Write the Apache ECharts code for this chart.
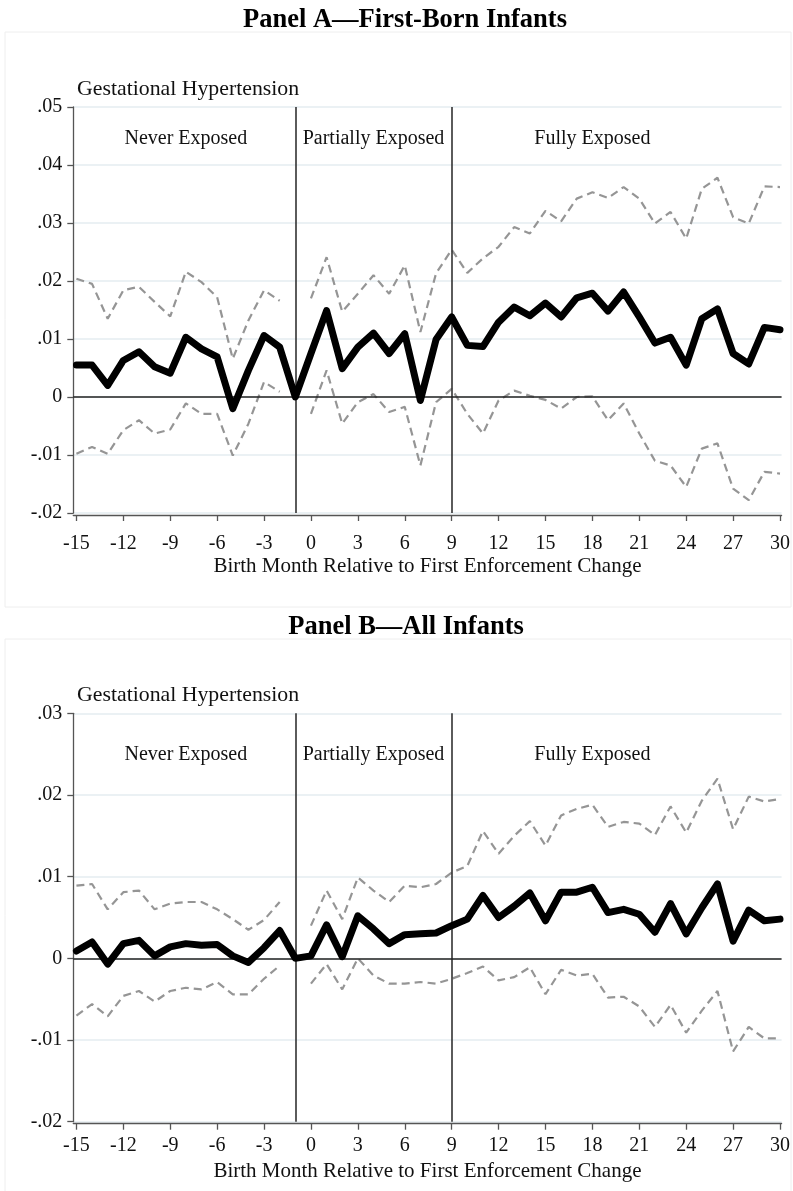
<!DOCTYPE html>
<html>
<head>
<meta charset="utf-8">
<script src="https://cdn.jsdelivr.net/npm/echarts@6/dist/echarts.min.js"></script>
<style>
html,body{margin:0;padding:0;background:#fff;}
#chart{width:793px;height:1191px;}
</style>
</head>
<body>
<div id="chart"></div>
<script>
// ---------- data ----------
const months = [-15,-14,-13,-12,-11,-10,-9,-8,-7,-6,-5,-4,-3,-2,-1,0,1,2,3,4,5,6,7,8,9,10,11,12,13,14,15,16,17,18,19,20,21,22,23,24,25,26,27,28,29,30];
const xTicks = [-15,-12,-9,-6,-3,0,3,6,9,12,15,18,21,24,27,30];
const dividers = [-1, 9];
const regionNames = ['Never Exposed','Partially Exposed','Fully Exposed'];
const regionX = [-8, 4, 18];
const regionYA = 0.0445;
const regionYB = 0.0249;

// Panel A — First-Born Infants
const A_est = [0.0055,0.0055,0.0020,0.0063,0.0078,0.0052,0.0041,0.0103,0.0083,0.0069,-0.0020,0.0046,0.0106,0.0086,0.0000,
  0.0075,0.0149,0.0049,0.0086,0.0110,0.0075,0.0109,-0.0006,0.0099,0.0138,0.0089,0.0087,0.0129,0.0155,0.0140,
  0.0162,0.0138,0.0171,0.0179,0.0148,0.0181,0.0138,0.0093,0.0103,0.0055,0.0135,0.0152,0.0075,0.0057,0.0120,0.0116];
const A_hi = [0.0204,0.0195,0.0135,0.0184,0.0190,0.0164,0.0139,0.0216,0.0198,0.0172,0.0066,0.0132,0.0184,0.0166,null,
  0.0170,0.0241,0.0147,0.0178,0.0210,0.0178,0.0227,0.0112,0.0213,0.0254,0.0214,0.0239,0.0259,0.0293,0.0282,
  0.0321,0.0303,0.0342,0.0353,0.0343,0.0362,0.0342,0.0299,0.0319,0.0273,0.0359,0.0378,0.0310,0.0299,0.0363,0.0362];
const A_lo = [-0.0098,-0.0086,-0.0098,-0.0057,-0.0040,-0.0063,-0.0056,-0.0011,-0.0029,-0.0029,-0.0101,-0.0046,0.0026,0.0009,null,
  -0.0029,0.0046,-0.0046,-0.0009,0.0005,-0.0026,-0.0017,-0.0118,-0.0009,0.0014,-0.0029,-0.0063,-0.0006,0.0011,0.0002,
  -0.0005,-0.0020,0.0000,0.0001,-0.0040,-0.0011,-0.0063,-0.0110,-0.0118,-0.0155,-0.0089,-0.0080,-0.0158,-0.0178,-0.0129,-0.0132];

// Panel B — All Infants
const B_est = [0.0009,0.0020,-0.0007,0.0018,0.0022,0.0003,0.0014,0.0018,0.0016,0.0017,0.0003,-0.0005,0.0013,0.0034,0.0000,
  0.0003,0.0041,0.0002,0.0052,0.0036,0.0018,0.0029,0.0030,0.0031,0.0040,0.0048,0.0077,0.0050,0.0064,0.0080,
  0.0046,0.0081,0.0081,0.0087,0.0056,0.0060,0.0054,0.0032,0.0067,0.0030,0.0062,0.0091,0.0021,0.0059,0.0046,0.0048];
const B_hi = [0.0089,0.0091,0.0060,0.0081,0.0083,0.0060,0.0067,0.0069,0.0069,0.0060,0.0048,0.0035,0.0047,0.0069,null,
  0.0040,0.0083,0.0048,0.0099,0.0083,0.0069,0.0089,0.0087,0.0091,0.0105,0.0113,0.0156,0.0128,0.0150,0.0168,
  0.0138,0.0175,0.0183,0.0188,0.0161,0.0167,0.0165,0.0151,0.0186,0.0154,0.0193,0.0220,0.0158,0.0198,0.0192,0.0195];
const B_lo = [-0.0070,-0.0056,-0.0071,-0.0046,-0.0040,-0.0053,-0.0040,-0.0036,-0.0038,-0.0029,-0.0044,-0.0044,-0.0025,-0.0009,null,
  -0.0031,-0.0007,-0.0038,0.0000,-0.0021,-0.0031,-0.0031,-0.0029,-0.0031,-0.0025,-0.0018,-0.0010,-0.0027,-0.0023,-0.0011,
  -0.0044,-0.0014,-0.0021,-0.0019,-0.0048,-0.0047,-0.0059,-0.0084,-0.0057,-0.0091,-0.0064,-0.0040,-0.0114,-0.0084,-0.0098,-0.0098];

// ---------- chart ----------
const FONT = '"Liberation Serif","Times New Roman",serif';
const pairs = arr => months.map((m, i) => [m, arr[i] === null ? '-' : arr[i]]);
const fmtY = v => {
  if (Math.abs(v) < 1e-9) return '0';
  return v.toFixed(2).replace('0.', '.');
};

function xAxisFor(idx, labelMargin, nameGap) {
  return {
    type: 'value', gridIndex: idx, min: -15.2, max: 30.1, offset: 2,
    axisLine: { show: true, onZero: false, lineStyle: { color: '#555', width: 1.3 } },
    axisTick: { show: true, length: 6, customValues: xTicks, lineStyle: { color: '#555', width: 1.3 } },
    axisLabel: { customValues: xTicks, margin: labelMargin, fontFamily: FONT, fontSize: 20, color: '#111' },
    splitLine: { show: false },
    name: 'Birth Month Relative to First Enforcement Change',
    nameLocation: 'middle', nameGap: nameGap,
    nameTextStyle: { fontFamily: FONT, fontSize: 21, color: '#111' }
  };
}
function yAxisFor(idx, min, max) {
  return {
    type: 'value', gridIndex: idx, min: min, max: max, interval: 0.01,
    axisLine: { show: true, onZero: false, lineStyle: { color: '#555', width: 1.3 } },
    axisTick: { show: true, length: 6, lineStyle: { color: '#555', width: 1.3 } },
    axisLabel: { margin: 11, fontFamily: FONT, fontSize: 20, color: '#111', formatter: fmtY },
    splitLine: { show: true, lineStyle: { color: '#e4edf1', width: 1.5 } }
  };
}
function seriesFor(idx, est, hi, lo, regionY) {
  const dashed = {
    type: 'line', xAxisIndex: idx, yAxisIndex: idx, symbol: 'none', silent: true,
    lineStyle: { color: '#959595', width: 2.2, type: [8, 5] }, z: 3
  };
  return [
    Object.assign({}, dashed, { data: pairs(hi) }),
    Object.assign({}, dashed, { data: pairs(lo) }),
    {
      type: 'line', xAxisIndex: idx, yAxisIndex: idx, symbol: 'none', silent: true, z: 5,
      data: pairs(est),
      lineStyle: { color: '#000', width: 7, join: 'round', cap: 'round' },
      markLine: {
        silent: true, symbol: 'none', animation: false,
        label: { show: false },
        data: [
          { xAxis: dividers[0], lineStyle: { color: '#333', width: 1.6, type: 'solid' } },
          { xAxis: dividers[1], lineStyle: { color: '#333', width: 1.6, type: 'solid' } },
          { yAxis: 0, lineStyle: { color: '#222', width: 1.6, type: 'solid' } }
        ]
      }
    },
    {
      type: 'scatter', xAxisIndex: idx, yAxisIndex: idx, silent: true,
      symbol: 'circle', symbolSize: 0,
      itemStyle: { color: '#ffffff', opacity: 1 },
      data: regionNames.map((n, i) => ({ name: n, value: [regionX[i], regionY] })),
      label: { show: true, position: 'inside', formatter: p => p.name, opacity: 1,
        fontFamily: FONT, fontSize: 20, color: '#111', textBorderWidth: 0 }
    }
  ];
}

const chart = echarts.init(document.getElementById('chart'), null, { renderer: 'canvas' });
chart.setOption({
  animation: false,
  backgroundColor: '#fff',
  graphic: [
    { type: 'rect', shape: { x: 5, y: 32, width: 786, height: 575 }, style: { fill: 'none', stroke: '#eeeeee', lineWidth: 1 }, silent: true, z: -10 },
    { type: 'rect', shape: { x: 5, y: 639, width: 786, height: 570 }, style: { fill: 'none', stroke: '#eeeeee', lineWidth: 1 }, silent: true, z: -10 }
  ],
  title: [
    { text: 'Panel A\u2014First-Born Infants', left: 400, top: 2, textAlign: 'center',
      textStyle: { fontFamily: FONT, fontSize: 26.5, fontWeight: 'bold', color: '#000' } },
    { text: 'Panel B\u2014All Infants', left: 401, top: 609, textAlign: 'center',
      textStyle: { fontFamily: FONT, fontSize: 26.5, fontWeight: 'bold', color: '#000' } },
    { text: 'Gestational Hypertension', left: 77, top: 78, padding: 0,
      textStyle: { fontFamily: FONT, fontSize: 21.8, fontWeight: 'normal', color: '#111' } },
    { text: 'Gestational Hypertension', left: 77, top: 684, padding: 0,
      textStyle: { fontFamily: FONT, fontSize: 21.8, fontWeight: 'normal', color: '#111' } }
  ],
  grid: [
    { left: 73.3, right: 10.5, top: 107, height: 406 },
    { left: 73.3, right: 10.5, top: 713.3, height: 408.4 }
  ],
  xAxis: [xAxisFor(0, 19, 41), xAxisFor(1, 12, 37)],
  yAxis: [yAxisFor(0, -0.02, 0.05), yAxisFor(1, -0.02, 0.03)],
  series: [].concat(
    seriesFor(0, A_est, A_hi, A_lo, regionYA),
    seriesFor(1, B_est, B_hi, B_lo, regionYB)
  )
});
</script>
</body>
</html>
